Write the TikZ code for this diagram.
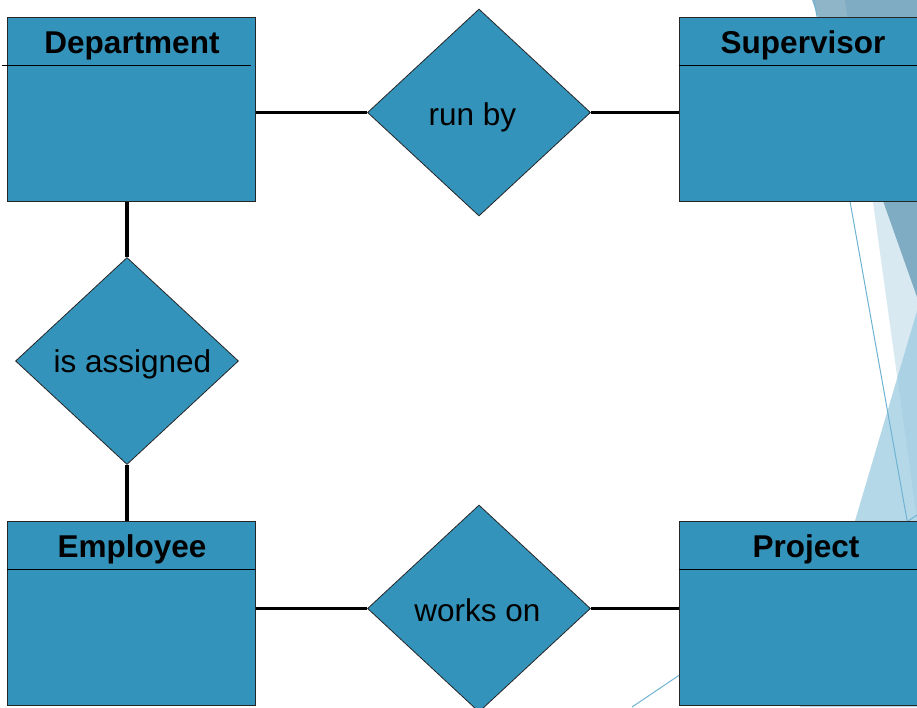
\documentclass[tikz,border=0pt]{standalone}
\usepackage{fontspec}
\setmainfont{Liberation Sans}
\usetikzlibrary{shapes.geometric}

\definecolor{erfill}{HTML}{3493BA}
\definecolor{facetpale}{HTML}{D9E9F1}
\definecolor{facetmid}{HTML}{9CCBE0}
\definecolor{facetdark}{HTML}{4484A3}
\definecolor{facetline}{HTML}{6FB3D2}

\tikzset{
  entity/.style={rectangle, draw=black!85, line width=1pt, fill=erfill,
    minimum width=248pt, minimum height=184pt, inner sep=0pt, anchor=north west},
  relation/.style={diamond, draw=black!85, line width=0.8pt, fill=erfill,
    minimum width=223pt, minimum height=207pt, inner sep=0pt},
  headtext/.style={anchor=base, inner sep=0pt,
    font=\fontsize{31.5}{36}\selectfont\bfseries},
  reltext/.style={anchor=base, inner sep=0pt,
    font=\fontsize{31.5}{36}\selectfont},
  divider/.style={draw=black, line width=0.9pt},
  link/.style={draw=black, line width=3.8pt},
}

\begin{document}
\begin{tikzpicture}[x=1pt, y=-1pt]
\useasboundingbox (0,0) rectangle (917,707);
\clip (0,0) rectangle (917,707);

% background facets on the right edge
\fill[facetpale] (845,0) -- (917,0) -- (917,520) -- cycle;
\fill[facetmid, opacity=0.75] (917,311) -- (800,707) -- (917,707) -- cycle;
\fill[facetdark, fill opacity=0.6] (812,0) -- (917,0) -- (917,297) -- cycle;
\draw[facetline, line width=1pt] (814,0) -- (917,576);
\draw[facetline, line width=1pt] (632,707) -- (917,515);

% entities
\node[entity] (dept) at (7,17) {};
\node[entity] (sup)  at (679,17) {};
\node[entity] (emp)  at (7,521) {};
\node[entity] (proj) at (679,521) {};

\draw[divider] ([shift={(-5pt,-48pt)}]dept.north west) -- ([shift={(-5pt,-48pt)}]dept.north east);
\draw[divider] ([yshift=-48pt]sup.north west) -- ([yshift=-48pt]sup.north east);
\draw[divider] ([yshift=-48pt]emp.north west) -- ([yshift=-48pt]emp.north east);
\draw[divider] ([yshift=-48pt]proj.north west) -- ([yshift=-48pt]proj.north east);

\node[headtext] (deptT) at (132,53)  {Department};
\node[headtext] (supT)  at (803,53)  {Supervisor};
\node[headtext] (empT)  at (132,557) {Employee};
\node[headtext] (projT) at (806,557) {Project};

% relationships
\node[relation] (runby)  at (479,112.5) {};
\node[relation] (assign) at (127,361) {};
\node[relation] (works)  at (479,608.5) {};

\node[reltext] (runbyT)  at (472.5,125) {run by};
\node[reltext] (assignT) at (132.5,372) {is assigned};
\node[reltext] (worksT)  at (477.5,621) {works on};

% connectors
\draw[link] (runby.west) -- (runby.west -| dept.east);
\draw[link] (runby.east) -- (runby.east -| sup.west);
\draw[link] (assign.north) -- (assign.north |- dept.south);
\draw[link] (assign.south) -- (assign.south |- emp.north);
\draw[link] (works.west) -- (works.west -| emp.east);
\draw[link] (works.east) -- (works.east -| proj.west);
\end{tikzpicture}
\end{document}
